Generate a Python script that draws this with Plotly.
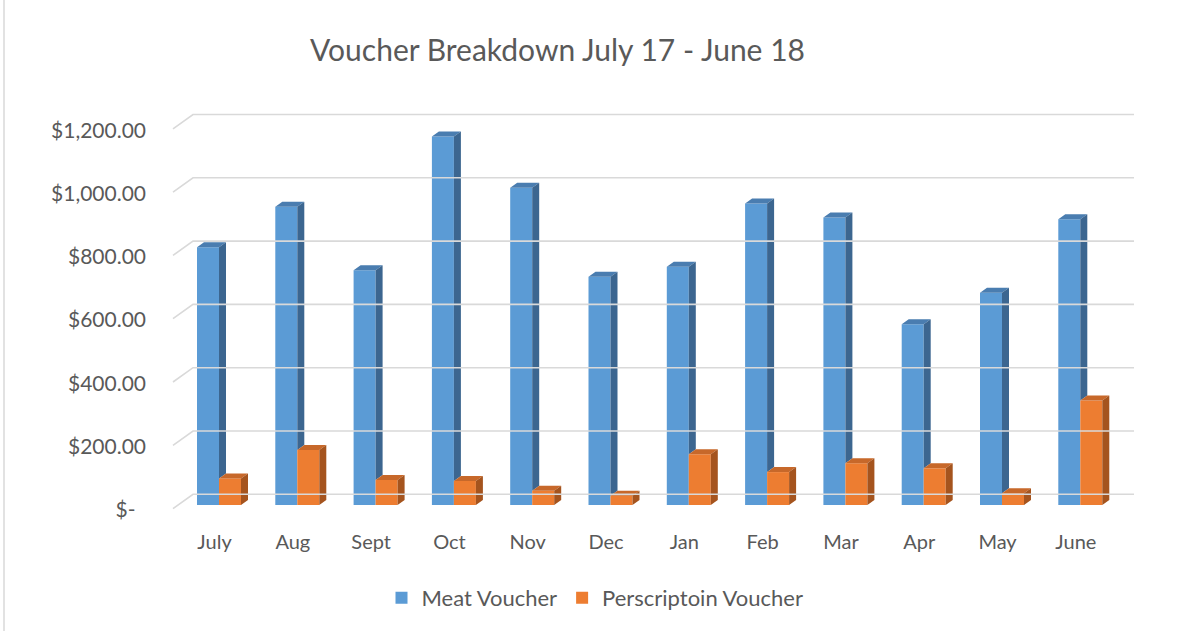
import plotly.graph_objects as go

months = ["July", "Aug", "Sept", "Oct", "Nov", "Dec", "Jan", "Feb", "Mar", "Apr", "May", "June"]
meat = [814, 942, 742, 1164, 1002, 721, 753, 953, 908, 571, 671, 903]
rx = [84, 174, 79, 76, 45, 29, 160, 104, 132, 116, 37, 330]
y_ticks = [0, 200, 400, 600, 800, 1000, 1200]
y_tick_text = ["$-\u2002", "$200.00", "$400.00", "$600.00", "$800.00", "$1,000.00", "$1,200.00"]

# layout geometry (pixels)
W, H = 1184, 631
L, R, T, B = 160, 1150, 90, 520
X0, XSTEP = 219.0, 78.3
UPP = 200 / 63.3          # value units per pixel
Z_BAR, Z_GRID, Z_LAB = 505.0, 494.3, 510.0

def yr(z):
    return [-(B - z) * UPP, (z - T) * UPP]

xr = [(L - X0) / XSTEP, (R - X0) / XSTEP]
BW = 22 / XSTEP           # bar width
DX = 7 / XSTEP            # depth x
DY = 5 * UPP              # depth y

C_MEAT, C_MEAT_SIDE, C_MEAT_TOP = "#5B9BD5", "#3C6690", "#4A7DB0"
C_RX, C_RX_SIDE, C_RX_TOP = "#ED7D31", "#A5541E", "#C7682A"
TXT = "#595959"
FONT = "Lato"

fig = go.Figure()

# gridlines on the back wall with perspective floor edge
gx, gy = [], []
for v in y_ticks:
    gx += [(173 - X0) / XSTEP, (193 - X0) / XSTEP, (1134 - X0) / XSTEP, None]
    gy += [v - 14.3 * UPP, v, v, None]
fig.add_trace(go.Scatter(x=gx, y=gy, yaxis="y2", mode="lines",
                         line=dict(color="#D9D9D9", width=1.6),
                         hoverinfo="skip", showlegend=False))
fig.add_trace(go.Scatter(x=[None], y=[None], yaxis="y3", mode="markers",
                         hoverinfo="skip", showlegend=False))

xs = list(range(len(months)))

# front faces
fig.add_trace(go.Bar(x=xs, y=meat, width=BW, offset=-BW, name="Meat Voucher",
                     marker=dict(color=C_MEAT, line=dict(width=0)), hoverinfo="skip"))
fig.add_trace(go.Bar(x=xs, y=rx, width=BW, offset=0, name="Perscriptoin Voucher",
                     marker=dict(color=C_RX, line=dict(width=0)), hoverinfo="skip"))

def poly_trace(px, py, color):
    return go.Scatter(x=px, y=py, mode="lines", fill="toself", fillcolor=color,
                      line=dict(width=0, color=color), hoverinfo="skip", showlegend=False)

# meat top and side (side starts above the orange bar in front of it)
tx, ty, sx, sy = [], [], [], []
for i, (m, o) in enumerate(zip(meat, rx)):
    a = i - BW
    tx += [a, i, i + DX, a + DX, a, None]
    ty += [m, m, m + DY, m + DY, m, None]
    sx += [i, i, i + DX, i + DX, i, None]
    sy += [o, m, m + DY, o + DY, o, None]
fig.add_trace(poly_trace(tx, ty, C_MEAT_TOP))
fig.add_trace(poly_trace(sx, sy, C_MEAT_SIDE))

tx, ty, sx, sy = [], [], [], []
for i, o in enumerate(rx):
    a, b = i, i + BW
    tx += [a, b, b + DX, a + DX, a, None]
    ty += [o, o, o + DY, o + DY, o, None]
    sx += [b, b, b + DX, b + DX, b, None]
    sy += [0, o, o + DY, DY, 0, None]
fig.add_trace(poly_trace(tx, ty, C_RX_TOP))
fig.add_trace(poly_trace(sx, sy, C_RX_SIDE))

fig.update_layout(
    width=W, height=H,
    margin=dict(l=L, r=W - R, t=T, b=H - B),
    paper_bgcolor="white", plot_bgcolor="rgba(0,0,0,0)",
    barmode="overlay",
    font=dict(family=FONT, color=TXT, size=21),
    title=dict(text="Voucher Breakdown July 17 - June 18", x=557.5 / W, xanchor="center",
               y=1 - 50 / H, yanchor="middle", font=dict(size=30, color=TXT, family=FONT)),
    xaxis=dict(range=xr, tickvals=[i - 0.057 for i in xs], ticktext=months,
               showgrid=False, zeroline=False, showline=False, ticks="",
               ticklabelstandoff=8, tickfont=dict(size=20, color=TXT)),
    yaxis=dict(range=yr(Z_BAR), visible=False, showgrid=False, zeroline=False),
    yaxis2=dict(range=yr(Z_GRID), overlaying="y", showgrid=False, zeroline=False,
                showticklabels=False, ticks=""),
    yaxis3=dict(range=yr(Z_LAB), overlaying="y", side="left", anchor="x",
                tickvals=y_ticks, ticktext=y_tick_text, showgrid=False, zeroline=False,
                ticks="", ticklabelstandoff=13, tickfont=dict(size=21, color=TXT)),
    legend=dict(orientation="h", x=(595 - L) / (R - L), xanchor="center",
                y=-(598 - B) / (B - T), yanchor="middle",
                font=dict(size=22, color=TXT), itemwidth=30, traceorder="normal"),
    shapes=[dict(type="line", xref="paper", yref="paper",
                 x0=(4 - L) / (R - L), x1=(4 - L) / (R - L),
                 y0=(B - 0) / (B - T), y1=(B - H) / (B - T),
                 line=dict(color="#D9D9D9", width=1.5))],
)

fig.write_html("out.html", config={"displayModeBar": False},
               post_script="document.body.style.margin='0';")
